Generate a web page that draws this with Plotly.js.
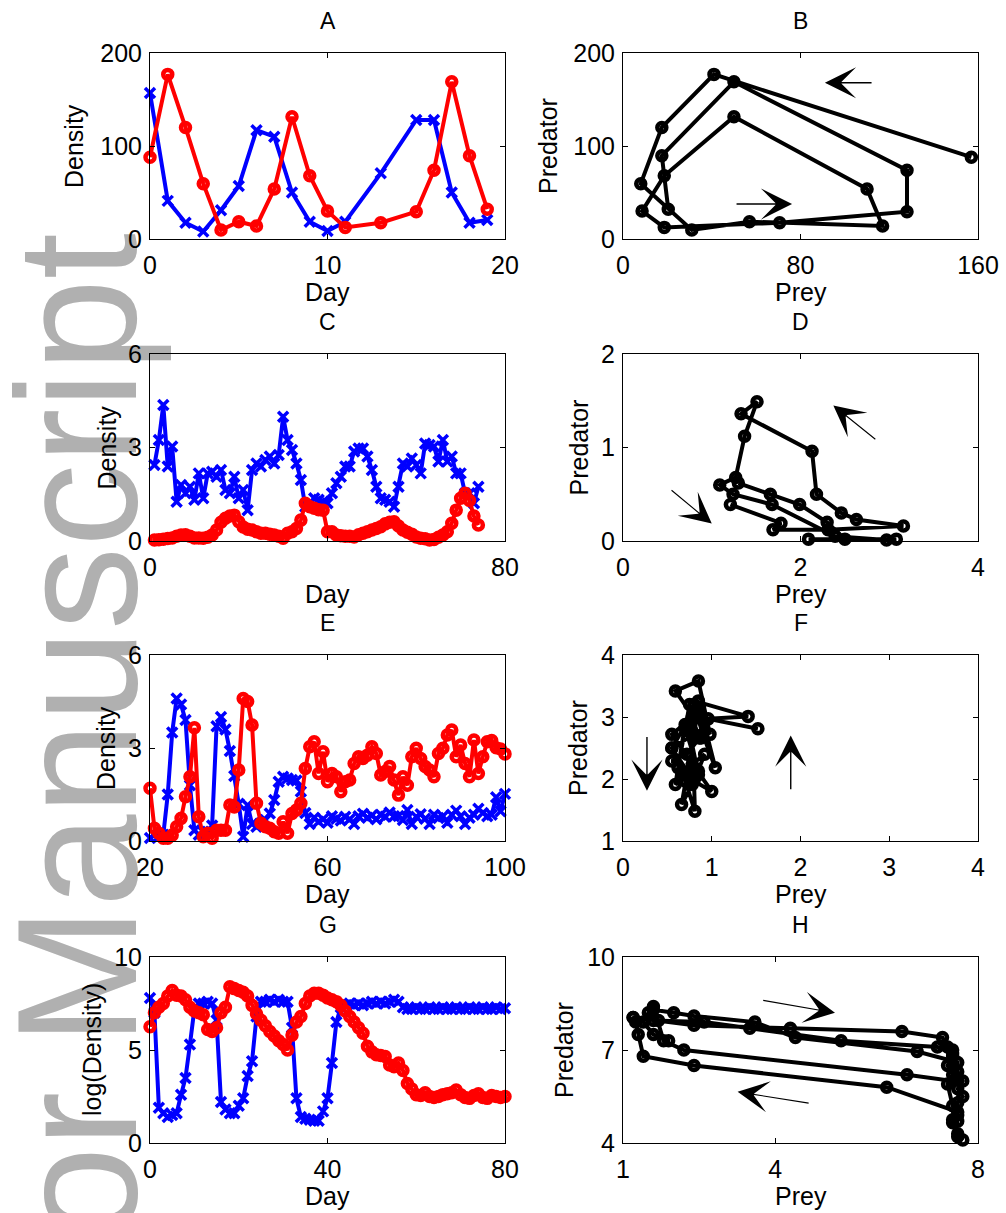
<!DOCTYPE html>
<html><head><meta charset="utf-8">
<script src="https://cdn.plot.ly/plotly-3.0.1.min.js"></script>
<style>
html,body{margin:0;padding:0;background:#fff;}
#wrap{position:relative;width:1006px;height:1213px;overflow:hidden;}
#wm{position:absolute;left:0;top:0;z-index:0;}
#chart{position:absolute;left:0;top:0;width:1006px;height:1213px;z-index:1;}
</style></head><body>
<div id="wrap">
<svg id="wm" width="1006" height="1213"><text x="136" y="907" transform="rotate(-90 136 907)" text-anchor="middle" font-family="Liberation Sans, Arial, sans-serif" font-size="170" textLength="1348" lengthAdjust="spacingAndGlyphs" fill="#b0b0b0">Author Manuscript</text></svg>
<div id="chart"></div>
</div>
<script>
// ---------- Panel A / B (daily counts) ----------
const dayA  = [0,1,2,3,4,5,6,7,8,9,10,11,13,15,16,17,18,19];
const preyA = [157,41,17.5,8,31,57,117,110,50,18.6,8.6,18.6,70.6,128,128,50,17.5,20.4];
const predA = [88,177,120,59.5,9.7,18.6,14,53.8,131.5,68,30,12.5,17.5,29.4,74,169,89.6,32];

// ---------- Panel C ----------
const dayC = [1,2,3,4,5,6,7,8,9,10,11,12,13,14,15,16,17,18,19,20,21,22,23,24,25,26,27,28,29,30,31,32,33,34,35,36,37,38,39,40,41,42,43,44,45,46,47,48,49,50,51,52,53,54,55,56,57,58,59,60,61,62,63,64,65,66,67,68,69,70,71,72,73,74];
const preyC = [2.44,3.24,4.36,2.39,3.03,1.26,1.8,1.53,1.74,1.32,
  2.17,1.37,2.17,2.22,2.06,2.28,1.64,1.53,2.06,1.37,
  1.64,0.99,2.28,2.49,2.39,2.6,2.71,2.49,2.76,3.99,
  3.24,2.92,2.49,1.96,1.1,1.21,1.37,1.32,1.26,1.21,
  1.53,1.85,2.06,2.39,2.39,2.87,2.97,2.97,2.71,2.28,
  1.74,1.37,1.32,1.26,1.1,1.74,2.49,2.39,2.65,2.44,
  2.17,3.13,3.08,3.03,2.55,3.24,2.55,2.71,2.17,2.17,
  1.53,1.53,1.21,1.74];
const predC = [0.03,0.04,0.06,0.08,0.1,0.15,0.19,0.2,0.15,0.1,
  0.1,0.09,0.12,0.19,0.35,0.6,0.73,0.8,0.83,0.62,
  0.45,0.38,0.35,0.3,0.25,0.25,0.22,0.19,0.15,0.09,
  0.25,0.3,0.4,0.67,1.21,1.1,1.05,1.0,0.99,0.3,
  0.3,0.19,0.17,0.15,0.15,0.13,0.2,0.25,0.3,0.35,
  0.4,0.46,0.55,0.6,0.62,0.48,0.35,0.28,0.22,0.13,
  0.09,0.07,0.03,0.05,0.12,0.19,0.3,0.57,0.99,1.37,
  1.53,1.3,0.8,0.51];

// ---------- Panel D ----------
const preyD = [1.21,1.78,1.69,2.31,3.16,2.63,2.46,2.18,2.13,1.33,1.51,1.37,1.27,1.09,1.24,1.68,2.39,2.97,3.08,2.09,2.50,2.30,1.99,1.30,1.66];
const predD = [0.39,0.19,0.12,0.12,0.16,0.23,0.30,0.50,0.96,1.36,1.49,1.12,0.68,0.60,0.50,0.39,0.05,0.01,0.02,0.02,0.02,0.20,0.39,0.62,0.50];

// ---------- Panel E / F ----------
const dayE = [20,21,22,23,24,25,26,27,28,29,30,31,32,33,34,35,36,37,38,39,40,41,42,43,44,45,46,47,48,49,50,51,52,53,54,55,56,57,58,59,60,61,62,63,64,65,66,67,68,69,70,71,72,73,74,75,76,77,78,79,80,81,82,83,84,85,86,87,88,89,90,91,92,93,94,95,96,97,98,99,100];
const preyE = [0.1,0.2,0.15,0.2,1.5,3.5,4.6,4.4,3.9,1.8,
  0.35,0.2,0.3,0.3,0.5,3.7,4.0,3.6,2.9,2.1,
  1.2,0.14,1.15,0.55,0.46,0.57,0.68,0.89,1.32,1.91,
  2.07,2.02,1.97,1.95,1.6,0.9,0.55,0.75,0.62,0.70,
  0.59,0.80,0.72,0.66,0.78,0.70,0.55,0.80,0.88,0.75,
  0.82,0.70,0.85,0.78,0.92,0.80,0.81,0.68,1.0,0.55,
  0.78,0.86,0.72,0.55,0.85,0.74,0.80,0.59,0.85,0.98,
  0.80,0.55,0.75,0.85,1.04,0.90,0.80,0.85,1.41,0.96,
  1.52];
const predE = [1.7,0.41,0.25,0.09,0.09,0.19,0.46,0.73,1.43,2.07,
  3.65,0.78,0.14,0.25,0.09,0.35,0.35,0.35,1.16,1.1,
  2.29,4.6,4.5,3.74,1.22,0.57,0.46,0.41,0.3,0.25,
  0.62,0.25,0.89,1.0,1.22,2.34,3.04,3.2,2.18,2.88,
  1.91,2.18,2.07,1.59,1.91,1.97,2.5,2.72,2.66,2.77,
  3.04,2.82,2.13,2.24,2.4,1.97,1.48,2.07,1.8,2.72,
  2.99,2.66,2.4,2.29,2.07,2.82,2.99,3.42,3.58,2.72,
  3.1,2.5,2.07,3.26,2.18,2.72,3.2,3.24,3.01,2.97,
  2.81];
const phaseStartF = 57;   // F shows days 57..100 of E

// ---------- Panel G / H (log density) ----------
const dayG = [0,1,2,3,4,5,6,7,8,9,10,11,12,13,14,15,16,17,18,19,20,21,22,23,24,25,26,27,28,29,30,31,32,33,34,35,36,37,38,39,40,41,42,43,44,45,46,47,48,49,50,51,52,53,54,55,56,57,58,59,60,61,62,63,64,65,66,67,68,69,70,71,72,73,74,75,76,77,78,79,80];
const preyG = [7.8,7.0,1.9,1.6,1.4,1.5,1.6,2.6,3.5,5.3,
  7.2,7.5,7.5,7.6,7.5,6.6,2.2,1.8,1.6,1.6,
  2.0,2.4,3.6,4.4,6.8,7.6,7.6,7.7,7.6,7.7,
  7.6,7.6,6.2,2.4,1.4,1.3,1.25,1.2,1.2,1.7,
  2.4,4.3,6.5,7.3,7.4,7.5,7.4,7.5,7.4,7.5,
  7.6,7.5,7.6,7.5,7.6,7.7,7.6,7.3,7.2,7.2,
  7.3,7.2,7.2,7.3,7.2,7.2,7.3,7.2,7.2,7.3,
  7.2,7.2,7.3,7.2,7.2,7.3,7.2,7.2,7.3,7.2,
  7.25];
const predG = [6.25,7.0,7.3,7.5,7.9,8.2,7.95,7.9,7.7,7.3,
  7.1,7.0,6.9,6.1,6.0,6.2,7.0,7.3,8.4,8.3,
  8.2,8.1,7.9,7.4,6.95,6.6,6.3,6.0,5.75,5.5,
  5.3,5.0,5.8,6.5,6.8,7.5,7.9,8.05,8.05,7.95,
  7.8,7.7,7.6,7.4,7.1,6.8,6.5,6.2,5.9,5.2,
  4.9,4.75,4.7,4.65,4.2,4.1,4.3,3.9,3.2,2.9,
  2.6,2.55,2.7,2.5,2.45,2.5,2.6,2.65,2.7,2.85,
  2.6,2.45,2.4,2.55,2.65,2.45,2.4,2.55,2.5,2.45,
  2.5];
const phaseRangeH = [2, 57]; // H shows days 2..56 of G

// ---------- labels ----------
const panelTitles = ['A','B','C','D','E','F','G','H'];
const yTitles = ['Density','Predator','Density','Predator','Density','Predator','log(Density)','Predator'];
const xTitles = ['Day','Prey','Day','Prey','Day','Prey','Day','Prey'];
const ranges = [
  {x:[0,20], y:[0,200], xt:[0,10,20], yt:[0,100,200]},
  {x:[0,160], y:[0,200], xt:[0,80,160], yt:[0,100,200]},
  {x:[0,80], y:[0,6], xt:[0,40,80], xl:['0','','80'], yt:[0,3,6]},
  {x:[0,4], y:[0,2], xt:[0,2,4], yt:[0,1,2]},
  {x:[20,100], y:[0,6], xt:[20,60,100], yt:[0,3,6]},
  {x:[0,4], y:[1,4], xt:[0,1,2,3,4], yt:[1,2,3,4]},
  {x:[0,80], y:[0,10], xt:[0,40,80], yt:[0,5,10]},
  {x:[1,8], y:[4,10], xt:[1,4,8], yt:[4,7,10]}
];
// arrows: [panel index, tailX, tailY, headX, headY, shaft width]
const arrows = [
  [1, 112.7,168, 91.0,168, 1.6],
  [1, 50.5,37.6, 76.2,37.6, 1.6],
  [3, 2.86,1.075, 2.37,1.45, 1.1],
  [3, 0.53,0.556, 1.0,0.186, 1.1],
  [5, 0.27,2.70, 0.27,1.81, 1.4],
  [5, 1.89,1.81, 1.89,2.70, 1.4],
  [7, 3.735,8.61, 5.18,8.2, 1.1],
  [7, 4.69,5.28, 3.26,5.65, 1.1]
];
// y-title centre x (px)
const yTitleX = [74,548,106,578,106,578,92,564];

// ---------- layout geometry ----------
const W = 1006, H = 1213;
const cols = [[150,505],[623,978]];
const rows = [[53,239],[354,541],[655,841],[957,1143]];
const FONT = 'Liberation Sans, Arial, Helvetica, sans-serif';

const layout = {
  width: W, height: H, margin:{l:0,r:0,t:0,b:0},
  paper_bgcolor:'rgba(0,0,0,0)', plot_bgcolor:'rgba(0,0,0,0)',
  showlegend:false, font:{family:FONT, color:'#000'},
  annotations:[]
};
for (let i=0;i<8;i++){
  const c = cols[i%2], r = rows[Math.floor(i/2)];
  const sfx = i===0 ? '' : String(i+1);
  const R = ranges[i];
  layout['xaxis'+sfx] = {
    domain:[c[0]/W, c[1]/W], range:R.x, tickvals:R.xt, ticktext:R.xl || R.xt.map(String),
    anchor:'y'+sfx, ticks:'inside', ticklen:5, tickwidth:1, tickcolor:'#000',
    showline:true, linecolor:'#000', linewidth:1, mirror:'ticks',
    showgrid:false, zeroline:false, fixedrange:true,
    tickfont:{family:FONT,size:25,color:'#000'}, ticklabelstandoff:4
  };
  layout['yaxis'+sfx] = {
    domain:[1-r[1]/H, 1-r[0]/H], range:R.y, tickvals:R.yt, ticktext:R.yt.map(String),
    anchor:'x'+sfx, ticks:'inside', ticklen:5, tickwidth:1, tickcolor:'#000',
    showline:true, linecolor:'#000', linewidth:1, mirror:'ticks',
    showgrid:false, zeroline:false, fixedrange:true,
    tickfont:{family:FONT,size:25,color:'#000'}, ticklabelstandoff:2
  };
  const cx = (c[0]+c[1])/2, cy = (r[0]+r[1])/2;
  layout.annotations.push({text:panelTitles[i], xref:'paper', yref:'paper', x:cx/W, y:1-(r[0]-32)/H,
    xanchor:'center', yanchor:'middle', showarrow:false, font:{family:FONT,size:23,color:'#000'}});
  layout.annotations.push({text:xTitles[i], xref:'paper', yref:'paper', x:cx/W, y:1-(r[1]+53)/H,
    xanchor:'center', yanchor:'middle', showarrow:false, font:{family:FONT,size:25,color:'#000'}});
  layout.annotations.push({text:yTitles[i], xref:'paper', yref:'paper', x:yTitleX[i]/W, y:1-cy/H,
    xanchor:'center', yanchor:'middle', textangle:-90, showarrow:false, font:{family:FONT,size:25,color:'#000'}});
}
arrows.forEach(a=>{
  const sfx = a[0]===0 ? '' : String(a[0]+1);
  layout.annotations.push({x:a[3], y:a[4], ax:a[1], ay:a[2], xref:'x'+sfx, yref:'y'+sfx, axref:'x'+sfx, ayref:'y'+sfx,
    text:'', showarrow:true, arrowhead:3, arrowcolor:'#000', arrowwidth:a[5], arrowsize:5.2/a[5], standoff:0});
});

// ---------- traces ----------
const LW = 4;
function prey(x,y,ax){ return {x,y,xaxis:'x'+ax,yaxis:'y'+ax,mode:'lines+markers',cliponaxis:false,
  line:{color:'#0000ff',width:LW}, marker:{symbol:'x-thin',size:10,color:'#0000ff',line:{color:'#0000ff',width:3.5}}}; }
function pred(x,y,ax){ return {x,y,xaxis:'x'+ax,yaxis:'y'+ax,mode:'lines+markers',cliponaxis:false,
  line:{color:'#ff0000',width:LW}, marker:{symbol:'circle-open',size:9,color:'#ff0000',line:{width:4.5}}}; }
function phase(x,y,ax){ return {x,y,xaxis:'x'+ax,yaxis:'y'+ax,mode:'lines+markers',cliponaxis:false,
  line:{color:'#000000',width:LW}, marker:{symbol:'circle-open',size:9,color:'#000000',line:{width:4.5}}}; }

const iF = dayE.indexOf(phaseStartF);
const data = [
  prey(dayA,preyA,''), pred(dayA,predA,''),
  phase(preyA,predA,'2'),
  prey(dayC,preyC,'3'), pred(dayC,predC,'3'),
  phase(preyD,predD,'4'),
  prey(dayE,preyE,'5'), pred(dayE,predE,'5'),
  phase(preyE.slice(iF),predE.slice(iF),'6'),
  prey(dayG,preyG,'7'), pred(dayG,predG,'7'),
  phase(preyG.slice(phaseRangeH[0],phaseRangeH[1]),predG.slice(phaseRangeH[0],phaseRangeH[1]),'8')
];
Plotly.newPlot('chart', data, layout, {staticPlot:true, displayModeBar:false});
</script>
</body></html>
